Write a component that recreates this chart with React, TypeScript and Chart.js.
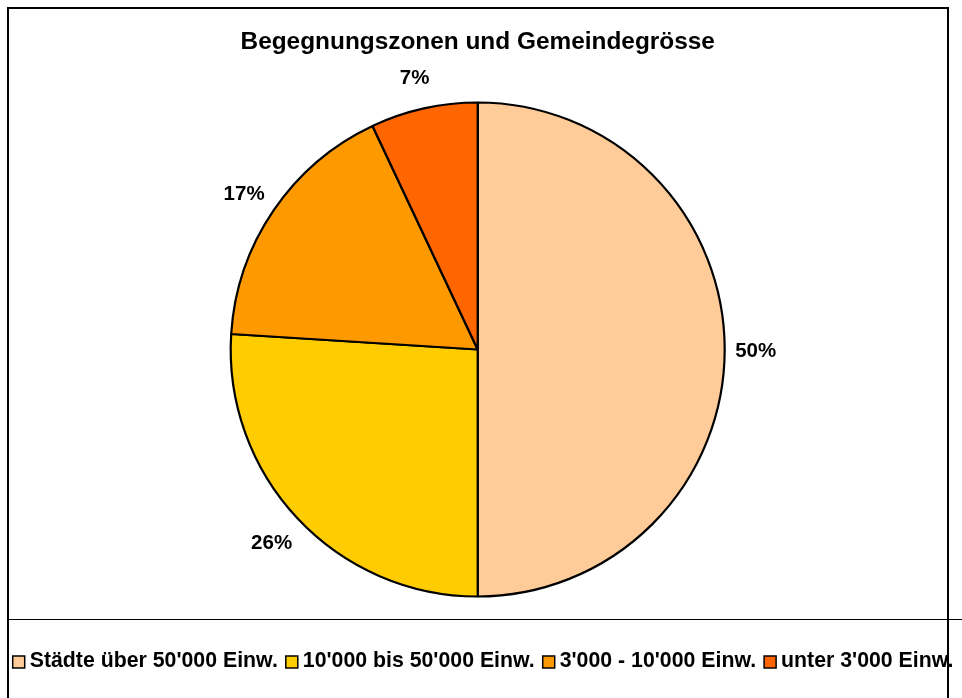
import React, { useEffect, useRef } from "react";
import { Chart, registerables } from "chart.js";

Chart.register(...registerables);

const TITLE = "Begegnungszonen und Gemeindegrösse";
const categories = [
  "Städte über 50'000 Einw.",
  "10'000 bis 50'000 Einw.",
  "3'000 - 10'000 Einw.",
  "unter 3'000 Einw.",
];
const shares = [50, 26, 17, 7];
const percentLabels = ["50%", "26%", "17%", "7%"];
const sliceColors = ["#FFCC99", "#FFCC00", "#FF9900", "#FF6600"];

const FONT = "'Liberation Sans', Arial, Helvetica, sans-serif";

const framePlugin = {
  id: "frame",
  beforeDraw(chart: any) {
    const ctx = chart.ctx;
    ctx.save();
    ctx.fillStyle = "#ffffff";
    ctx.fillRect(0, 0, chart.width, chart.height);
    ctx.strokeStyle = "#000000";
    ctx.lineWidth = 2;
    ctx.beginPath();
    ctx.moveTo(8, chart.height);
    ctx.lineTo(8, 8);
    ctx.lineTo(948, 8);
    ctx.lineTo(948, chart.height);
    ctx.stroke();
    ctx.lineWidth = 1.2;
    ctx.beginPath();
    ctx.moveTo(8, 619.5);
    ctx.lineTo(chart.width, 619.5);
    ctx.stroke();
    ctx.restore();
  },
};

const sliceLabelPlugin = {
  id: "sliceLabels",
  afterDatasetsDraw(chart: any) {
    const ctx = chart.ctx;
    const meta = chart.getDatasetMeta(0);
    ctx.save();
    ctx.font = `bold 20.5px ${FONT}`;
    ctx.fillStyle = "#000000";
    ctx.textAlign = "center";
    ctx.textBaseline = "middle";
    meta.data.forEach((arc: any, i: number) => {
      const p = arc.getProps(["x", "y", "startAngle", "endAngle", "outerRadius"], true);
      const mid = (p.startAngle + p.endAngle) / 2;
      const d = p.outerRadius + 33;
      ctx.fillText(percentLabels[i], p.x + Math.cos(mid) * d - 2, p.y + Math.sin(mid) * d + 2);
    });
    ctx.restore();
  },
};

const legendPlugin = {
  id: "bottomLegend",
  afterDraw(chart: any) {
    const ctx = chart.ctx;
    ctx.save();
    ctx.font = `bold 21.3px ${FONT}`;
    ctx.textAlign = "left";
    ctx.textBaseline = "middle";
    let x = 12.7;
    const y = 662;
    const box = 12;
    chart.data.labels.forEach((label: string, i: number) => {
      ctx.fillStyle = sliceColors[i];
      ctx.fillRect(x, y - box / 2, box, box);
      ctx.strokeStyle = "#000000";
      ctx.lineWidth = 1.5;
      ctx.strokeRect(x, y - box / 2, box, box);
      ctx.fillStyle = "#000000";
      const tx = x + 17;
      ctx.fillText(label, tx, y - 1);
      x = tx + ctx.measureText(label).width + 8;
    });
    ctx.restore();
  },
};

export default function App() {
  const ref = useRef<HTMLCanvasElement | null>(null);
  useEffect(() => {
    if (!ref.current) return;
    const chart = new Chart(ref.current, {
      type: "pie",
      data: {
        labels: categories,
        datasets: [
          {
            data: shares,
            backgroundColor: sliceColors,
            borderColor: "#000000",
            borderWidth: 2.2,
          },
        ],
      },
      options: {
        responsive: false,
        animation: false,
        devicePixelRatio: 1,
        radius: 247,
        layout: { padding: { top: 0, left: 0, right: 6.6, bottom: 99 } },
        plugins: {
          title: {
            display: true,
            text: TITLE,
            color: "#000000",
            font: { family: FONT, size: 24.4, weight: "bold" },
            padding: { top: 28, bottom: 42.7 },
          },
          legend: { display: false },
          tooltip: { enabled: false },
        },
      } as any,
      plugins: [framePlugin, sliceLabelPlugin, legendPlugin],
    });
    return () => chart.destroy();
  }, []);
  return (
    <div style={{ position: "fixed", left: 0, top: 0, width: 962, height: 698, background: "#fff" }}>
      <canvas ref={ref} width={962} height={698} style={{ width: 962, height: 698, display: "block" }} />
    </div>
  );
}
